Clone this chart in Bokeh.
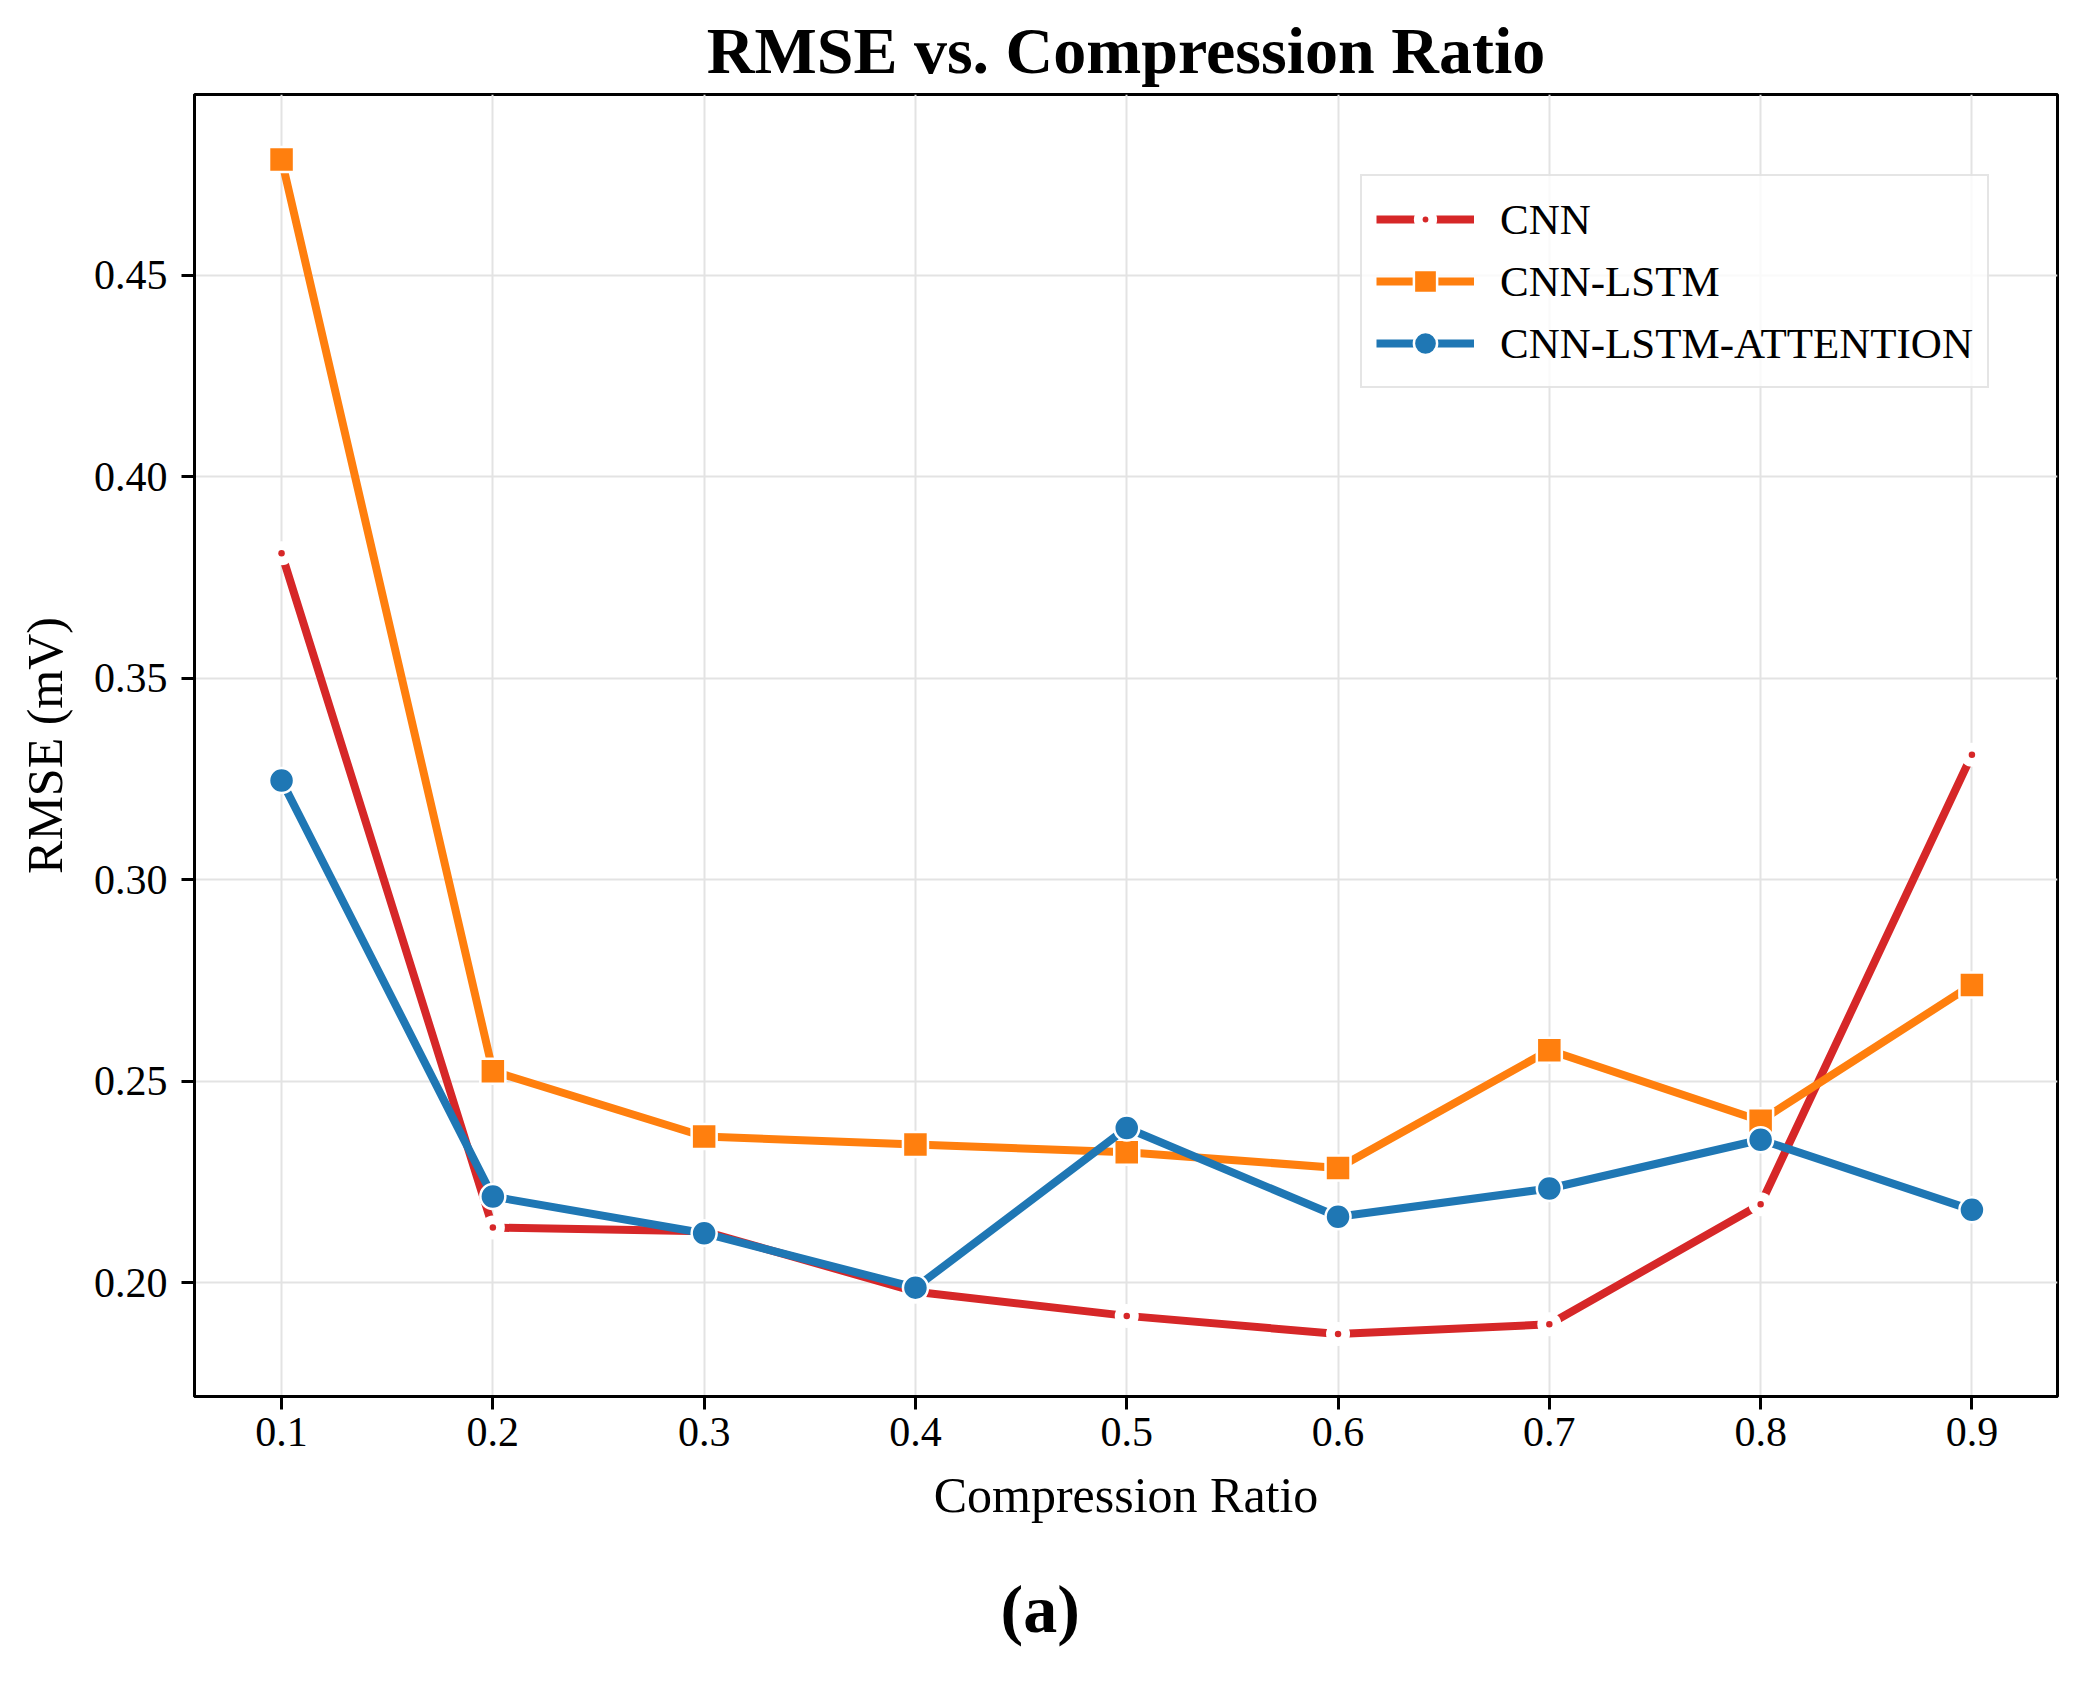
from bokeh.plotting import figure
from bokeh.models import Range1d, FixedTicker, Legend, LegendItem, Title
from bokeh.embed import file_html
from bokeh.resources import INLINE

# ---- data ----
ratios = [0.1, 0.2, 0.3, 0.4, 0.5, 0.6, 0.7, 0.8, 0.9]
x_tick_labels = ["0.1", "0.2", "0.3", "0.4", "0.5", "0.6", "0.7", "0.8", "0.9"]
y_ticks = [0.20, 0.25, 0.30, 0.35, 0.40, 0.45]
y_tick_labels = ["0.20", "0.25", "0.30", "0.35", "0.40", "0.45"]
cnn = [0.381, 0.2137, 0.2128, 0.1978, 0.1918, 0.1873, 0.1897, 0.2195, 0.331]
cnn_lstm = [0.4787, 0.2525, 0.2363, 0.2343, 0.2324, 0.2285, 0.2577, 0.2402, 0.2739]
cnn_lstm_attention = [0.3246, 0.2214, 0.2123, 0.1988, 0.2384, 0.2164, 0.2234, 0.2355, 0.2181]
series_names = ["CNN", "CNN-LSTM", "CNN-LSTM-ATTENTION"]

FONT = "Liberation Serif"
RED = "#d62728"
ORANGE = "#ff7f0e"
BLUE = "#1f77b4"

p = figure(width=2066, height=1689, output_backend="svg", toolbar_location=None,
           x_range=Range1d(0.0588, 0.9405), y_range=Range1d(0.1718, 0.4948),
           min_border_left=194, min_border_right=9, min_border_top=94,
           min_border_bottom=290, title="RMSE vs. Compression Ratio")

p.background_fill_color = "white"
p.border_fill_color = "white"
p.outline_line_color = "black"
p.outline_line_width = 3
p.outline_line_alpha = 1.0

p.title.text_font = FONT
p.title.text_font_size = "66px"
p.title.text_font_style = "bold"
p.title.align = "center"
p.title.text_color = "black"
p.title.standoff = 16

p.xaxis.ticker = FixedTicker(ticks=ratios)
p.xaxis.major_label_overrides = {t: s for t, s in zip(ratios, x_tick_labels)}
p.yaxis.ticker = FixedTicker(ticks=y_ticks)
p.yaxis.major_label_overrides = {t: s for t, s in zip(y_ticks, y_tick_labels)}
p.xaxis.axis_label = "Compression Ratio"
p.yaxis.axis_label = "RMSE (mV)"

for ax in (p.xaxis[0], p.yaxis[0]):
    ax.axis_line_width = 3
    ax.axis_line_color = "black"
    ax.major_tick_line_width = 3
    ax.major_tick_line_color = "black"
    ax.major_tick_out = 13
    ax.major_tick_in = 0
    ax.minor_tick_line_color = None
    ax.major_label_text_font = FONT
    ax.major_label_text_font_size = "42px"
    ax.major_label_text_color = "black"
    ax.axis_label_text_font = FONT
    ax.axis_label_text_font_size = "50px"
    ax.axis_label_text_font_style = "normal"
    ax.axis_label_text_color = "black"
p.xaxis.major_label_standoff = 8
p.xaxis.axis_label_standoff = 18
p.yaxis.major_label_standoff = 14
p.yaxis.axis_label_standoff = 18

for g in (p.xgrid[0], p.ygrid[0]):
    g.grid_line_color = "#e3e3e3"
    g.grid_line_width = 2

# CNN
l1 = p.line(ratios, cnn, line_color=RED, line_width=8)
w1 = p.scatter(ratios, cnn, marker="circle", size=24, fill_color="white", line_color=None)
d1 = p.scatter(ratios, cnn, marker="dot", size=26, line_color=RED, fill_color=RED)
# CNN-LSTM
l2 = p.line(ratios, cnn_lstm, line_color=ORANGE, line_width=8)
s2 = p.scatter(ratios, cnn_lstm, marker="square", size=25, fill_color=ORANGE,
               line_color="white", line_width=2.5)
# CNN-LSTM-ATTENTION
l3 = p.line(ratios, cnn_lstm_attention, line_color=BLUE, line_width=8)
s3 = p.scatter(ratios, cnn_lstm_attention, marker="circle", size=25, fill_color=BLUE,
               line_color="white", line_width=2.5)

legend = Legend(items=[
    LegendItem(label=series_names[0], renderers=[l1, w1, d1]),
    LegendItem(label=series_names[1], renderers=[l2, s2]),
    LegendItem(label=series_names[2], renderers=[l3, s3]),
], location=(1166, 1008))
legend.label_text_font = FONT
legend.label_text_font_size = "43px"
legend.label_text_color = "black"
legend.glyph_width = 98
legend.glyph_height = 58
legend.label_height = 58
legend.spacing = 4
legend.padding = 14
legend.margin = 0
legend.label_standoff = 26
legend.border_line_color = "#cccccc"
legend.border_line_width = 2.5
legend.background_fill_color = "white"
legend.background_fill_alpha = 0.8
p.add_layout(legend, "center")

# panel caption "(a)"
caption = Title(text="(a)", align="left", offset=806, standoff=86,
                text_font=FONT, text_font_size="68px", text_font_style="bold",
                text_color="black")
p.add_layout(caption, "below")

open("out.html", "w").write(file_html(p, INLINE))
